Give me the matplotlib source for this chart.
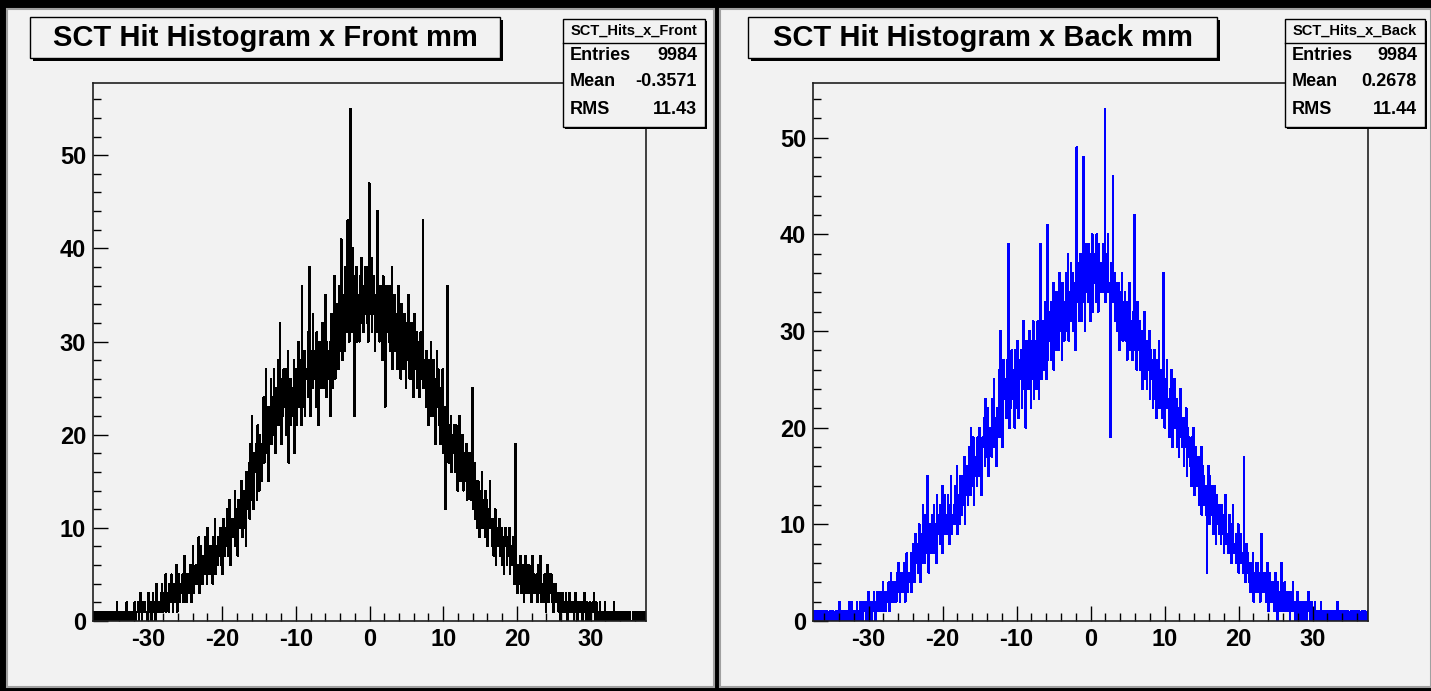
import numpy as np
import matplotlib.pyplot as plt
from matplotlib.patches import Rectangle

plt.rcParams['font.family'] = ['Liberation Sans', 'DejaVu Sans']
plt.rcParams['axes.unicode_minus'] = False

W, H = 1431, 691

# histogram range (mm) and counts per 0.1 mm bin
x_lo, x_hi = -37.5, 37.5

front_counts = [
    0, 1, 0, 0, 1, 0, 1, 0, 0, 1,
    1, 0, 0, 1, 0, 0, 1, 1, 0, 0,
    0, 1, 0, 1, 0, 0, 0, 1, 1, 0,
    1, 0, 2, 0, 1, 0, 0, 1, 0, 1,
    0, 1, 1, 0, 0, 2, 0, 1, 1, 0,
    1, 0, 1, 1, 0, 0, 2, 0, 1, 1,
    1, 2, 0, 1, 3, 1, 0, 2, 1, 2,
    2, 1, 1, 0, 2, 3, 1, 1, 2, 0,
    1, 3, 2, 1, 0, 2, 4, 1, 2, 1,
    2, 1, 3, 4, 2, 1, 3, 2, 5, 1,
    3, 2, 1, 4, 2, 3, 5, 2, 1, 3,
    4, 2, 3, 6, 1, 3, 5, 2, 4, 3,
    3, 5, 2, 4, 7, 3, 2, 5, 4, 3,
    5, 3, 6, 2, 4, 8, 3, 5, 4, 6,
    6, 4, 7, 9, 3, 5, 8, 6, 4, 7,
    7, 5, 9, 6, 4, 10, 7, 5, 8, 6,
    8, 6, 4, 9, 7, 11, 5, 8, 6, 7,
    9, 7, 10, 6, 8, 5, 11, 9, 7, 8,
    10, 8, 12, 7, 9, 13, 6, 11, 9, 10,
    11, 9, 14, 8, 12, 10, 7, 13, 11, 10,
    12, 15, 9, 11, 14, 10, 13, 8, 16, 12,
    14, 17, 11, 19, 13, 22, 15, 12, 18, 16,
    16, 19, 13, 21, 17, 14, 20, 18, 15, 19,
    20, 24, 17, 22, 27, 18, 21, 15, 23, 19,
    22, 26, 19, 24, 20, 27, 23, 18, 25, 21,
    24, 28, 21, 32, 23, 19, 26, 22, 27, 25,
    23, 27, 20, 25, 29, 17, 24, 26, 21, 25,
    25, 22, 28, 18, 24, 27, 21, 26, 30, 23,
    24, 28, 21, 36, 25, 23, 29, 22, 27, 26,
    27, 31, 24, 38, 26, 22, 29, 25, 33, 28,
    26, 29, 23, 31, 27, 21, 28, 30, 25, 27,
    28, 32, 25, 29, 27, 35, 24, 30, 26, 29,
    27, 30, 22, 33, 28, 25, 31, 37, 26, 29,
    30, 34, 27, 36, 29, 33, 41, 31, 28, 35,
    33, 29, 38, 35, 31, 43, 34, 30, 47, 55,
    36, 31, 40, 34, 22, 37, 33, 38, 30, 35,
    34, 30, 37, 32, 39, 35, 31, 36, 33, 38,
    35, 32, 38, 30, 47, 36, 33, 39, 31, 34,
    37, 33, 29, 35, 31, 44, 38, 34, 30, 36,
    32, 35, 28, 37, 30, 34, 23, 33, 36, 31,
    34, 30, 36, 29, 33, 38, 27, 32, 35, 30,
    29, 33, 27, 31, 36, 28, 32, 26, 34, 30,
    31, 27, 33, 29, 25, 32, 28, 35, 30, 26,
    28, 32, 26, 30, 24, 29, 33, 27, 31, 25,
    27, 30, 24, 28, 31, 26, 29, 43, 25, 28,
    26, 23, 29, 25, 21, 28, 24, 27, 30, 22,
    24, 28, 22, 26, 19, 25, 29, 23, 27, 21,
    22, 19, 25, 21, 27, 18, 23, 20, 12, 21,
    36, 23, 17, 21, 19, 22, 16, 20, 18, 21,
    19, 16, 21, 18, 14, 20, 17, 22, 15, 18,
    17, 20, 14, 18, 16, 15, 19, 13, 17, 18,
    15, 18, 13, 16, 25, 14, 12, 17, 11, 15,
    13, 10, 15, 12, 9, 14, 11, 16, 10, 13,
    12, 9, 14, 11, 13, 8, 12, 10, 15, 11,
    10, 8, 11, 7, 9, 12, 6, 10, 8, 9,
    9, 11, 7, 8, 10, 6, 9, 5, 8, 10,
    8, 6, 9, 7, 10, 5, 8, 6, 7, 9,
    6, 4, 7, 19, 5, 3, 6, 4, 5, 7,
    5, 3, 6, 4, 2, 5, 7, 3, 4, 6,
    4, 6, 3, 5, 2, 4, 7, 3, 5, 4,
    3, 5, 2, 4, 6, 3, 7, 2, 4, 3,
    4, 2, 5, 3, 1, 4, 6, 2, 3, 5,
    3, 5, 2, 4, 1, 3, 2, 4, 3, 2,
    2, 1, 3, 2, 0, 2, 3, 1, 2, 1,
    1, 3, 2, 0, 2, 1, 3, 2, 1, 2,
    2, 1, 0, 2, 3, 1, 2, 0, 1, 2,
    1, 2, 1, 0, 2, 1, 3, 1, 0, 2,
    2, 0, 1, 2, 1, 0, 1, 2, 1, 3,
    1, 0, 2, 1, 0, 1, 0, 2, 1, 0,
    0, 1, 1, 0, 2, 0, 1, 1, 0, 1,
    1, 0, 0, 1, 1, 0, 2, 0, 1, 0,
    0, 1, 0, 0, 1, 1, 0, 0, 1, 0,
    1, 0, 1, 0, 0, 1, 0, 1, 0, 0,
    0, 0, 1, 1, 0, 0, 1, 0, 1, 0,
    1, 0, 0, 1, 0, 1, 0, 0, 1, 0,
]

back_counts = [
    0, 1, 0, 0, 1, 0, 0, 1, 0, 1,
    1, 0, 0, 1, 0, 1, 0, 0, 1, 0,
    0, 0, 1, 0, 1, 0, 1, 1, 0, 0,
    1, 0, 1, 0, 0, 2, 0, 1, 0, 1,
    0, 1, 0, 1, 0, 0, 1, 0, 2, 0,
    1, 0, 2, 1, 0, 1, 0, 1, 1, 2,
    0, 1, 1, 2, 0, 1, 2, 0, 1, 1,
    2, 1, 0, 1, 3, 0, 1, 2, 1, 0,
    1, 2, 3, 1, 0, 2, 1, 3, 2, 1,
    2, 3, 1, 2, 4, 1, 3, 2, 1, 3,
    3, 2, 4, 1, 3, 5, 2, 3, 4, 2,
    4, 3, 2, 5, 3, 6, 4, 2, 3, 5,
    3, 5, 4, 6, 2, 4, 7, 3, 5, 4,
    5, 4, 7, 3, 6, 8, 5, 4, 9, 6,
    6, 8, 5, 10, 7, 4, 9, 6, 12, 7,
    8, 6, 11, 7, 15, 9, 5, 10, 8, 7,
    9, 11, 7, 12, 8, 10, 6, 13, 9, 11,
    10, 8, 12, 9, 14, 7, 11, 10, 13, 9,
    11, 9, 13, 10, 8, 12, 15, 9, 11, 10,
    12, 10, 14, 11, 16, 9, 13, 12, 10, 15,
    13, 11, 15, 12, 17, 10, 14, 13, 16, 12,
    15, 18, 13, 20, 14, 16, 19, 12, 17, 15,
    17, 14, 19, 16, 20, 15, 18, 13, 17, 19,
    18, 21, 16, 23, 19, 17, 22, 15, 20, 18,
    20, 17, 23, 19, 25, 18, 21, 16, 22, 20,
    22, 26, 19, 30, 21, 24, 18, 27, 23, 25,
    24, 21, 27, 23, 39, 20, 25, 22, 28, 24,
    23, 26, 20, 28, 24, 22, 29, 21, 25, 27,
    25, 28, 22, 27, 31, 24, 26, 20, 29, 26,
    27, 24, 30, 26, 22, 29, 25, 31, 23, 28,
    26, 29, 24, 31, 27, 23, 28, 39, 25, 30,
    28, 31, 26, 33, 29, 25, 41, 27, 32, 29,
    30, 27, 33, 28, 35, 26, 31, 29, 34, 28,
    31, 34, 28, 36, 30, 33, 27, 35, 32, 29,
    33, 30, 36, 32, 38, 29, 34, 31, 37, 33,
    32, 36, 30, 35, 28, 34, 49, 33, 37, 31,
    34, 38, 31, 36, 33, 48, 35, 30, 39, 34,
    36, 33, 39, 35, 31, 38, 34, 40, 32, 37,
    35, 38, 33, 40, 36, 32, 39, 34, 37, 36,
    37, 34, 39, 36, 53, 33, 38, 35, 40, 34,
    35, 32, 19, 37, 34, 46, 33, 36, 31, 35,
    33, 30, 35, 32, 28, 34, 31, 36, 29, 33,
    31, 34, 29, 33, 27, 32, 30, 35, 28, 31,
    30, 27, 32, 29, 42, 28, 31, 26, 33, 29,
    28, 31, 26, 30, 27, 24, 29, 32, 25, 28,
    27, 24, 29, 26, 30, 23, 28, 25, 27, 22,
    25, 28, 23, 26, 21, 27, 24, 29, 22, 26,
    24, 21, 26, 36, 23, 20, 25, 22, 27, 23,
    22, 19, 24, 21, 26, 18, 23, 20, 25, 21,
    20, 23, 18, 22, 17, 21, 24, 19, 21, 18,
    19, 16, 21, 18, 22, 15, 20, 17, 19, 16,
    17, 14, 19, 16, 20, 13, 18, 15, 17, 14,
    15, 12, 17, 14, 18, 11, 16, 13, 15, 12,
    14, 11, 5, 13, 16, 10, 15, 12, 14, 11,
    12, 9, 14, 11, 8, 13, 10, 12, 9, 11,
    10, 8, 12, 9, 11, 7, 10, 13, 8, 9,
    9, 7, 11, 8, 10, 6, 9, 12, 7, 8,
    8, 6, 9, 7, 10, 5, 8, 6, 9, 7,
    7, 5, 17, 6, 4, 8, 5, 7, 6, 4,
    5, 3, 6, 4, 7, 2, 5, 3, 4, 6,
    4, 6, 3, 5, 2, 4, 9, 3, 5, 4,
    3, 5, 2, 4, 6, 1, 3, 5, 2, 4,
    2, 4, 3, 1, 5, 2, 3, 0, 4, 2,
    3, 1, 2, 6, 1, 3, 2, 4, 1, 2,
    2, 3, 1, 2, 0, 3, 1, 2, 4, 1,
    1, 2, 0, 1, 3, 1, 0, 2, 1, 2,
    0, 1, 2, 1, 0, 2, 1, 0, 1, 3,
    1, 0, 1, 2, 0, 1, 1, 0, 2, 1,
    0, 1, 0, 1, 1, 0, 2, 0, 1, 0,
    1, 0, 1, 0, 0, 1, 0, 1, 0, 1,
    0, 1, 0, 0, 1, 0, 1, 0, 2, 0,
    1, 0, 0, 1, 0, 1, 0, 0, 1, 0,
    0, 1, 1, 0, 0, 0, 1, 0, 1, 1,
    1, 0, 0, 1, 0, 1, 0, 1, 0, 0,
    0, 1, 0, 0, 1, 0, 1, 0, 0, 1,
]

titles = ["SCT Hit Histogram x Front mm", "SCT Hit Histogram x Back mm"]
stat_names = ["SCT_Hits_x_Front", "SCT_Hits_x_Back"]
entries = ["9984", "9984"]
means = ["-0.3571", "0.2678"]
rms_vals = ["11.43", "11.44"]
line_colors = ["black", "#0000ff"]
y_tops = [57.75, 55.65]
counts = [front_counts, back_counts]

# pixel layout (x from left, y from top) for the two pads
pad_x = [(7, 714), (720, 1431)]
frame_x = [(93, 646), (813, 1368)]
title_x = [(30, 500), (748, 1217)]
stats_x = [(563, 705), (1285, 1425)]

PAD_COLOR = "#f2f2f2"


def fx(x):
    return x / W


def fy(y):
    return 1 - y / H


def box(fig, x0, y0, x1, y1, shadow=3, z=5):
    # ROOT style box: black shadow on right/bottom then the box itself
    fig.add_artist(Rectangle((fx(x0 + shadow), fy(y1 + shadow)), (x1 - x0) / W,
                             (y1 - y0) / H, transform=fig.transFigure,
                             facecolor="black", edgecolor="none", zorder=z))
    fig.add_artist(Rectangle((fx(x0), fy(y1)), (x1 - x0) / W, (y1 - y0) / H,
                             transform=fig.transFigure, facecolor=PAD_COLOR,
                             edgecolor="black", lw=1, zorder=z + 0.1))


fig = plt.figure(figsize=(W / 100, H / 100), dpi=100, facecolor="black")

for i in range(2):
    # pad background
    px0, px1 = pad_x[i]
    fig.add_artist(Rectangle((fx(px0), fy(687)), (px1 - px0) / W, (687 - 9) / H,
                             transform=fig.transFigure, facecolor=PAD_COLOR,
                             edgecolor="#a0a0a0", lw=1.5, zorder=-5))

    # histogram frame
    ax0, ax1 = frame_x[i]
    ax = fig.add_axes([fx(ax0), fy(621), (ax1 - ax0) / W, (621 - 83) / H])
    ax.set_facecolor(PAD_COLOR)
    ax.set_zorder(1)
    edges = np.linspace(x_lo, x_hi, len(counts[i]) + 1)
    ax.stairs(counts[i], edges, color=line_colors[i], linewidth=0.75,
              antialiased=False)
    ax.set_xlim(x_lo, x_hi)
    ax.set_ylim(0, y_tops[i])

    ax.set_xticks([-30, -20, -10, 0, 10, 20, 30])
    ax.set_xticks(np.arange(-36, 37, 2), minor=True)
    ax.set_yticks([0, 10, 20, 30, 40, 50])
    ax.set_yticks(np.arange(0, y_tops[i], 2), minor=True)
    ax.tick_params(which="both", direction="in", width=1, color="black",
                   top=False, right=False)
    ax.tick_params(which="major", length=11, labelsize=17, pad=5)
    ax.tick_params(which="minor", length=5.5)
    for lab in ax.get_xticklabels() + ax.get_yticklabels():
        lab.set_fontweight("bold")
    for sp in ax.spines.values():
        sp.set_linewidth(1.2)
        sp.set_color("#202020")

    # title box
    tx0, tx1 = title_x[i]
    box(fig, tx0, 17, tx1, 58)
    fig.text(fx((tx0 + tx1) / 2), fy(38), titles[i], ha="center", va="center",
             fontsize=21, fontweight="bold", zorder=7)

    # statistics box
    sx0, sx1 = stats_x[i]
    box(fig, sx0, 19, sx1, 127, shadow=2)
    fig.add_artist(plt.Line2D([fx(sx0), fx(sx1)], [fy(43), fy(43)],
                              transform=fig.transFigure, color="black", lw=1,
                              zorder=6))
    fig.text(fx((sx0 + sx1) / 2), fy(31), stat_names[i], ha="center",
             va="center", fontsize=10.5, fontweight="bold", zorder=7)
    rows = [("Entries", entries[i], 56), ("Mean", means[i], 82),
            ("RMS", rms_vals[i], 110)]
    for name, val, yy in rows:
        fig.text(fx(sx0 + 7), fy(yy), name, ha="left", va="center",
                 fontsize=13, fontweight="bold", zorder=7)
        fig.text(fx(sx1 - 8), fy(yy), val, ha="right", va="center",
                 fontsize=13, fontweight="bold", zorder=7)

fig.savefig("out.png", dpi=100, facecolor="black")
